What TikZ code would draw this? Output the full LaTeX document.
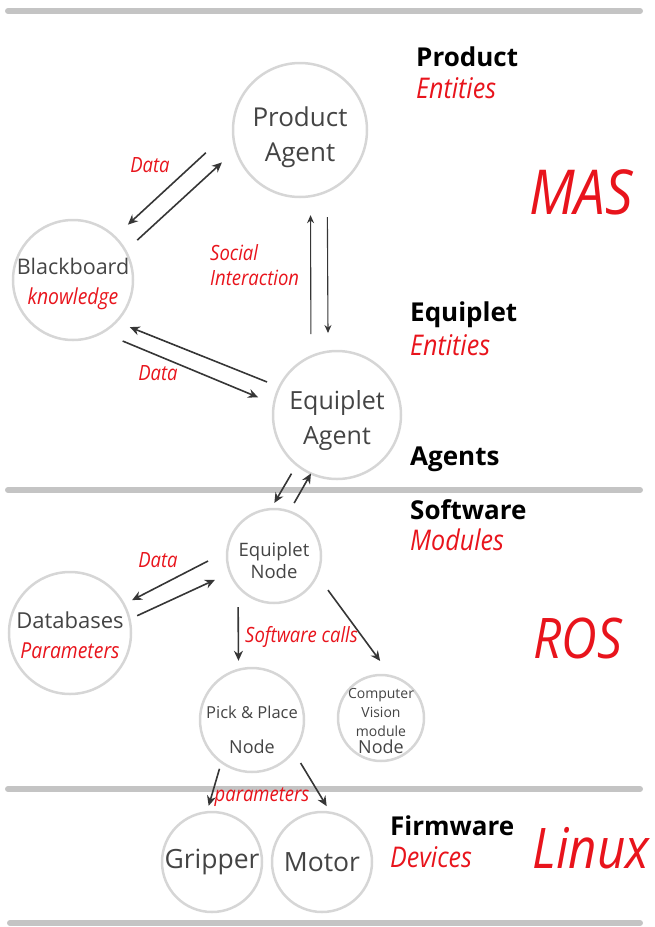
\documentclass[tikz,border=0pt]{standalone}
\usepackage{fontspec}
\setmainfont{Open Sans}
\newfontfamily\redit[FakeStretch=0.88]{Open Sans}
\usetikzlibrary{arrows.meta}
\definecolor{circgray}{HTML}{D6D6D6}
\definecolor{bargray}{HTML}{C4C4C4}
\definecolor{nodegray}{HTML}{444444}
\definecolor{arrowgray}{HTML}{363636}
\definecolor{labelred}{HTML}{E8141C}

\begin{document}
\begin{tikzpicture}[x=1pt,y=-1pt]
\tikzset{agentcircle/.style={circle,draw=circgray,line width=2.5pt,text=nodegray,align=center,inner sep=-20pt,outer sep=0pt}}
\tikzset{dataarrow/.style={draw=arrowgray,line width=1.6pt,-{Stealth[length=10pt,width=9pt]}}}
\tikzset{socialarrow/.style={draw=arrowgray,line width=1.1pt,-{Stealth[length=8pt,width=7pt]}}}
\tikzset{redlabel/.style={text=labelred,inner sep=0pt,font=\redit\itshape\fontsize{21}{25}\selectfont}}
\tikzset{layerbar/.style={draw=bargray,line width=6pt,line cap=round}}
\tikzset{layertitle/.style={anchor=west,inner sep=0pt,font=\bfseries\fontsize{26}{30}\selectfont}}
\tikzset{layersub/.style={anchor=west,inner sep=0pt,text=labelred,font=\redit\itshape\fontsize{28.5}{32}\selectfont}}
\tikzset{layersystem/.style={text=labelred,font=\redit\itshape\fontsize{56}{60}\selectfont}}

\useasboundingbox (0,0) rectangle (655,927);

\coordinate (bar1l) at (8,11);   \coordinate (bar1r) at (640,11);
\coordinate (bar2l) at (8,490);  \coordinate (bar2r) at (640,490);
\coordinate (bar3l) at (8,789);  \coordinate (bar3r) at (640,789);
\coordinate (bar4l) at (10,923); \coordinate (bar4r) at (640,923);
\draw[layerbar] (bar1l) -- (bar1r);
\draw[layerbar] (bar2l) -- (bar2r);
\draw[layerbar] (bar3l) -- (bar3r);
\draw[layerbar] (bar4l) -- (bar4r);

\node[agentcircle,minimum size=134pt,font=\fontsize{26}{35}\selectfont] (product) at (300,130) {\rule{0pt}{34pt}Product\\Agent};
\node[agentcircle,minimum size=120pt,font=\fontsize{21.5}{30}\selectfont] (blackboard) at (73,280) {\rule{0pt}{24pt}Blackboard\\\textcolor{labelred}{\redit\itshape\fontsize{22}{30}\selectfont knowledge}};
\node[agentcircle,minimum size=128pt,font=\fontsize{25}{35}\selectfont] (eqagent) at (337,415) {\rule{0pt}{29pt}Equiplet\\Agent};
\node[agentcircle,minimum size=94pt,font=\fontsize{18.5}{22}\selectfont] (eqnode) at (274,556) {\rule{0pt}{24pt}Equiplet\\Node};
\node[agentcircle,minimum size=122pt,font=\fontsize{22}{30}\selectfont] (databases) at (70,633) {\rule{0pt}{22pt}Databases\\\textcolor{labelred}{\redit\itshape\fontsize{22}{30}\selectfont Parameters}};
\node[agentcircle,minimum size=104pt,font=\fontsize{16.5}{35}\selectfont] (pickplace) at (252,720) {\rule{0pt}{32pt}Pick \& Place\\\fontsize{18}{35}\selectfont Node};
\node[agentcircle,minimum size=86pt,font=\fontsize{14}{19}\selectfont] (vision) at (381,718) {\rule{0pt}{17pt}Computer\\Vision\\module\\[-2pt]\fontsize{18}{17}\selectfont Node};
\node[agentcircle,minimum size=100pt,font=\fontsize{26.5}{30}\selectfont] (gripper) at (212,862) {Gripper};
\node[agentcircle,minimum size=100pt,font=\fontsize{26.5}{30}\selectfont] (motor) at (322,862) {Motor};

\draw[dataarrow,shorten <=37pt,shorten >=18pt] (product.178) -- (blackboard.46);
\draw[dataarrow,shorten <=16pt,shorten >=19pt] (blackboard.29) -- (product.197);
\draw[socialarrow,shorten <=22.5pt,shorten >=19pt] (eqagent.114) -- (product.279.4);
\draw[socialarrow,shorten <=26pt,shorten >=18.6pt] (product.294.7) -- (eqagent.98.1);
\draw[dataarrow,shorten <=13.4pt,shorten >=14.7pt] (eqagent.154) -- (blackboard.316.3);
\draw[dataarrow,shorten <=22.3pt,shorten >=17.2pt] (blackboard.299.3) -- (eqagent.170.7);
\draw[dataarrow,shorten <=10.3pt,shorten >=7.2pt] (eqagent.231.7) -- (eqnode.94.6);
\draw[dataarrow,shorten <=9.8pt] (eqnode.71.4) -- (eqagent.246.2);
\draw[dataarrow,shorten <=21.6pt,shorten >=9.2pt] (eqnode.174) -- (databases.28.2);
\draw[dataarrow,shorten <=8.5pt,shorten >=16.7pt] (databases.13.8) -- (eqnode.201.4);
\draw[dataarrow,shorten <=20.8pt,shorten >=9pt] (eqnode.220) -- (pickplace.105.9);
\draw[dataarrow,shorten <=18.6pt,shorten >=19pt] (eqnode.336) -- (vision.76.4);
\draw[dataarrow,shorten <=7pt,shorten >=6.7pt] (pickplace.234.1) -- (gripper.96.9);
\draw[dataarrow,shorten <=13.7pt,shorten >=7.7pt] (pickplace.323.6) -- (motor.80.9);

\node[redlabel] (data1) at (150,165) {Data};
\node[redlabel,anchor=west,align=left] (social) at (210,265) {Social\\Interaction};
\node[redlabel] (data2) at (158,373) {Data};
\node[redlabel] (data3) at (158,560) {Data};
\node[redlabel,anchor=west] (calls) at (245,637) {Software calls};
\node[redlabel] (params) at (262,797) {parameters};

\node[layertitle] (producttitle) at (416,57) {Product};
\node[layersub] (productsub) at (416,88) {Entities};
\node[layersystem,font=\redit\itshape\fontsize{62}{66}\selectfont] (mas) at (581,192) {MAS};
\node[layertitle] (equiplettitle) at (410,315) {Equiplet};
\node[layersub] (equipletsub) at (410,345) {Entities};
\node[layertitle] (agentstitle) at (410,459) {Agents};
\node[layertitle] (softwaretitle) at (410,510) {Software};
\node[layersub] (softwaresub) at (410,540) {Modules};
\node[layersystem] (ros) at (578,638) {ROS};
\node[layertitle] (firmwaretitle) at (390,826) {Firmware};
\node[layersub] (firmwaresub) at (390,857) {Devices};
\node[layersystem] (linux) at (591,848) {Linux};
\end{tikzpicture}
\end{document}
